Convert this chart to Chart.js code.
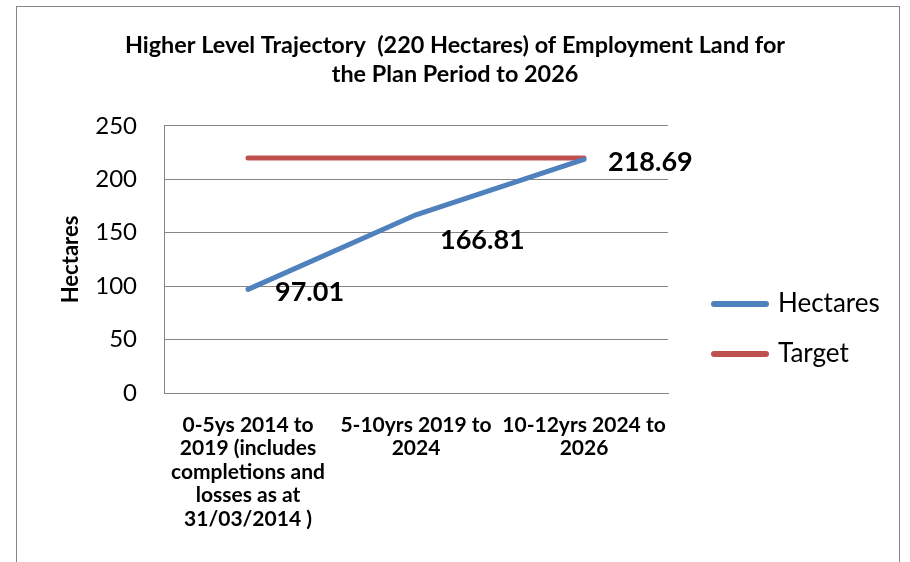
<!DOCTYPE html>
<html>
<head>
<meta charset="utf-8">
<script src="https://cdn.jsdelivr.net/npm/chart.js@4.4.1/dist/chart.umd.min.js"></script>
<style>
  html, body { margin: 0; padding: 0; background: #fff; }
</style>
</head>
<body>
<canvas id="chart" width="910" height="562"></canvas>
<script>
// data
const categories = [
  ['0-5ys 2014 to', '2019 (includes', 'completions and', 'losses as at', '31/03/2014 )'],
  ['5-10yrs 2019 to', '2024'],
  ['10-12yrs 2024 to', '2026']
];
const hectares = [97.01, 166.81, 218.69];
const target = [220, 220, 220];
const seriesNames = ['Hectares', 'Target'];
const titleLines = ['Higher Level Trajectory  (220 Hectares) of Employment Land for', 'the Plan Period to 2026'];
const yMin = 0, yMax = 250, yStep = 50;

const FONT = 'Lato, "Open Sans", sans-serif';
const GRID = '#868686';

// outer frame of the chart
const framePlugin = {
  id: 'frame',
  beforeDraw(chart) {
    const ctx = chart.ctx;
    ctx.save();
    ctx.strokeStyle = GRID;
    ctx.lineWidth = 1;
    ctx.strokeRect(16.5, 6.5, 883, 600);
    ctx.restore();
  }
};

// value labels next to the Hectares points
const valueLabels = {
  id: 'valueLabels',
  afterDatasetsDraw(chart, args, opts) {
    const ctx = chart.ctx;
    const meta = chart.getDatasetMeta(0);
    ctx.save();
    ctx.font = 'bold 27px ' + FONT;
    ctx.fillStyle = '#000';
    ctx.textAlign = 'left';
    ctx.textBaseline = 'middle';
    meta.data.forEach((pt, i) => {
      const off = opts.offsets[i];
      ctx.fillText(chart.data.datasets[0].data[i].toFixed(2), pt.x + off[0], pt.y + off[1]);
    });
    ctx.restore();
  }
};

// legend on the right, drawn from the datasets
const sideLegend = {
  id: 'sideLegend',
  afterDraw(chart) {
    const ctx = chart.ctx;
    ctx.save();
    chart.data.datasets.forEach((ds, i) => {
      const y = 304 + i * 50;
      ctx.strokeStyle = ds.borderColor;
      ctx.lineWidth = 6;
      ctx.lineCap = 'round';
      ctx.beginPath();
      ctx.moveTo(714, y);
      ctx.lineTo(766, y);
      ctx.stroke();
      ctx.fillStyle = '#000';
      ctx.font = '26px ' + FONT;
      ctx.textBaseline = 'middle';
      ctx.fillText(ds.label, 778, y);
    });
    ctx.restore();
  }
};

new Chart(document.getElementById('chart'), {
  type: 'line',
  data: {
    labels: categories,
    datasets: [
      {
        label: seriesNames[0],
        data: hectares,
        borderColor: '#4F81BD',
        borderWidth: 5,
        borderCapStyle: 'round',
        pointRadius: 0,
        tension: 0
      },
      {
        label: seriesNames[1],
        data: target,
        borderColor: '#C0504D',
        borderWidth: 5,
        borderCapStyle: 'round',
        pointRadius: 0,
        tension: 0
      }
    ]
  },
  options: {
    responsive: false,
    animation: false,
    layout: { padding: 0 },
    plugins: {
      legend: { display: false },
      tooltip: { enabled: false },
      title: {
        display: true,
        text: titleLines,
        color: '#000',
        font: { family: FONT, size: 23.4, weight: 'bold', lineHeight: 1.28 },
        padding: { top: 30, bottom: 36 }
      },
      valueLabels: { offsets: [[27, 3], [24, 26], [24, 3]] }
    },
    scales: {
      x: {
        offset: true,
        grid: { display: false, drawTicks: false },
        border: { display: true, color: GRID, width: 1 },
        ticks: {
          color: '#000',
          maxRotation: 0,
          autoSkip: false,
          padding: 20,
          font: { family: FONT, size: 21, weight: 'bold', lineHeight: 1.12 }
        },
        afterFit(scale) { scale.height = 169; }
      },
      y: {
        min: yMin,
        max: yMax,
        grid: { color: GRID, drawTicks: false },
        border: { display: true, color: GRID, width: 1 },
        ticks: {
          stepSize: yStep,
          color: '#000',
          padding: 27,
          font: { family: FONT, size: 24 }
        },
        title: {
          display: true,
          text: 'Hectares',
          color: '#000',
          font: { family: FONT, size: 22, weight: 'bold' },
          padding: { top: 58, bottom: 0 }
        },
        afterFit(scale) { scale.width = 164; }
      },
      // empty axis on the right that keeps room for the legend
      side: {
        type: 'linear',
        position: 'right',
        display: true,
        grid: { display: false, drawTicks: false },
        border: { display: false },
        ticks: { display: false },
        afterFit(scale) { scale.width = 242; }
      }
    }
  },
  plugins: [framePlugin, valueLabels, sideLegend]
});
</script>
</body>
</html>
